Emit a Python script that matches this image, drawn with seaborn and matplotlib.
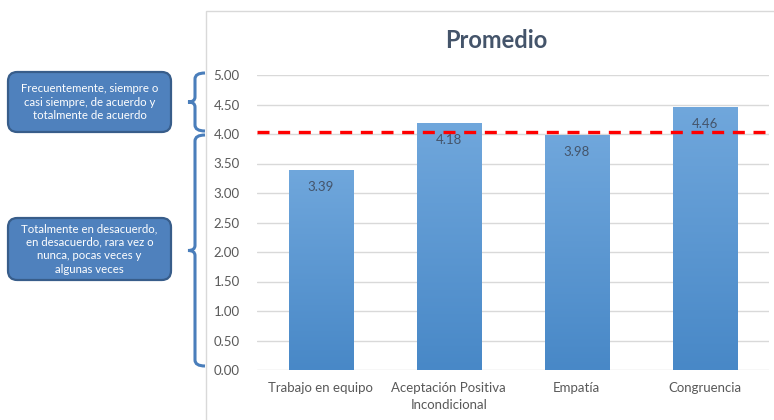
import numpy as np
import pandas as pd
import matplotlib
matplotlib.use("Agg")
import matplotlib.pyplot as plt
import seaborn as sns
from matplotlib.patches import FancyBboxPatch, PathPatch, Rectangle
from matplotlib.path import Path
from matplotlib.colors import LinearSegmentedColormap

categories = ["Trabajo en equipo", "Aceptación Positiva\nIncondicional", "Empatía", "Congruencia"]
values = [3.39, 4.18, 3.98, 4.46]
threshold = 4.03
yticks = [0, 0.5, 1, 1.5, 2, 2.5, 3, 3.5, 4, 4.5, 5]
title = "Promedio"
box_high = "Frecuentemente, siempre o\ncasi siempre, de acuerdo y\ntotalmente de acuerdo"
box_low = "Totalmente en desacuerdo,\nen desacuerdo, rara vez o\nnunca, pocas veces y\nalgunas veces"

sns.set_theme(style="white")
plt.rcParams['font.family'] = ['Lato', 'DejaVu Sans']

W, H = 774, 420
fig = plt.figure(figsize=(W / 100, H / 100), dpi=100)

def fx(x):
    return x / W

def fy(y):
    return 1 - y / H

ax = fig.add_axes([fx(256.5), fy(370), fx(769) - fx(256.5), fy(75) - fy(370)])
df = pd.DataFrame({"cat": categories, "val": values})
sns.barplot(data=df, x="cat", y="val", ax=ax, color="#5B9BD5", width=0.5, saturation=1, zorder=2)

ax.set_ylim(0, 5)
ax.set_xlim(-0.5, len(categories) - 0.5)
ax.set_yticks(yticks)
ax.set_yticklabels([f"{v:.2f}" for v in yticks])
ax.yaxis.grid(True, color="#D9D9D9", lw=1)
ax.set_axisbelow(True)
for s in ax.spines.values():
    s.set_visible(False)
ax.tick_params(axis="both", length=0, labelsize=9.5, colors="#595959")
ax.tick_params(axis="y", pad=12)
ax.tick_params(axis="x", pad=9)
for t in ax.get_xticklabels():
    t.set_linespacing(1.45)
ax.set_xlabel("")
ax.set_ylabel("")

cmap = LinearSegmentedColormap.from_list("g", ["#4888C7", "#70A7DC"])
grad = np.linspace(0, 1, 256).reshape(-1, 1)
for p, v in zip(ax.patches, values):
    p.set_facecolor("none")
    p.set_edgecolor("none")
    x0, w = p.get_x(), p.get_width()
    im = ax.imshow(grad, cmap=cmap, origin="lower", aspect="auto",
                   extent=[x0, x0 + w, 0, v], zorder=2)
    im.set_clip_path(p)
    ax.annotate(f"{v:.2f}", (x0 + w / 2, v), xytext=(0, -17), textcoords="offset pixels",
                ha="center", va="center", fontsize=9.5, color="#44546A", zorder=4)
ax.set_xlim(-0.5, len(categories) - 0.5)
ax.set_ylim(0, 5)

ax.axhline(threshold, color="#FF0000", lw=2.4, dashes=(3.6, 2.6), zorder=3)

fig.text(fx(496), fy(41), title, ha="center", va="center", fontsize=17,
         fontweight="bold", color="#44546A")

fig.patches.append(Rectangle((fx(206), fy(440)), fx(800) - fx(206), fy(11) - fy(440),
                             transform=fig.transFigure, fill=False, edgecolor="#D9D9D9", lw=1))

def add_box(x0, y0, x1, y1, text):
    b = FancyBboxPatch((fx(x0), fy(y1)), fx(x1) - fx(x0), fy(y0) - fy(y1),
                       boxstyle="round,pad=0,rounding_size=0.012",
                       transform=fig.transFigure, facecolor="#4F81BD",
                       edgecolor="#385D8A", lw=1.6, mutation_aspect=W / H)
    fig.patches.append(b)
    fig.text(fx((x0 + x1) / 2), fy((y0 + y1) / 2), text, ha="center", va="center",
             fontsize=8.2, color="white", linespacing=1.3)

add_box(8, 72, 171, 132, box_high)
add_box(8, 218, 171, 280, box_low)

def add_brace(top, bot, xr=205, xv=195, xt=188):
    mid = (top + bot) / 2
    pts = [(xr, top), (xv, top), (xv, top + 6),
           (xv, mid - 5),
           (xv, mid), (xt, mid),
           (xv, mid), (xv, mid + 5),
           (xv, bot - 6),
           (xv, bot), (xr, bot)]
    codes = [Path.MOVETO, Path.CURVE3, Path.CURVE3,
             Path.LINETO,
             Path.CURVE3, Path.CURVE3,
             Path.CURVE3, Path.CURVE3,
             Path.LINETO,
             Path.CURVE3, Path.CURVE3]
    path = Path([(fx(a), fy(b)) for a, b in pts], codes)
    fig.patches.append(PathPatch(path, transform=fig.transFigure, fill=False,
                                 edgecolor="#4A7EBB", lw=2.2, capstyle="butt"))

add_brace(73, 131)
add_brace(135, 366)

fig.savefig("out.png", dpi=100)
